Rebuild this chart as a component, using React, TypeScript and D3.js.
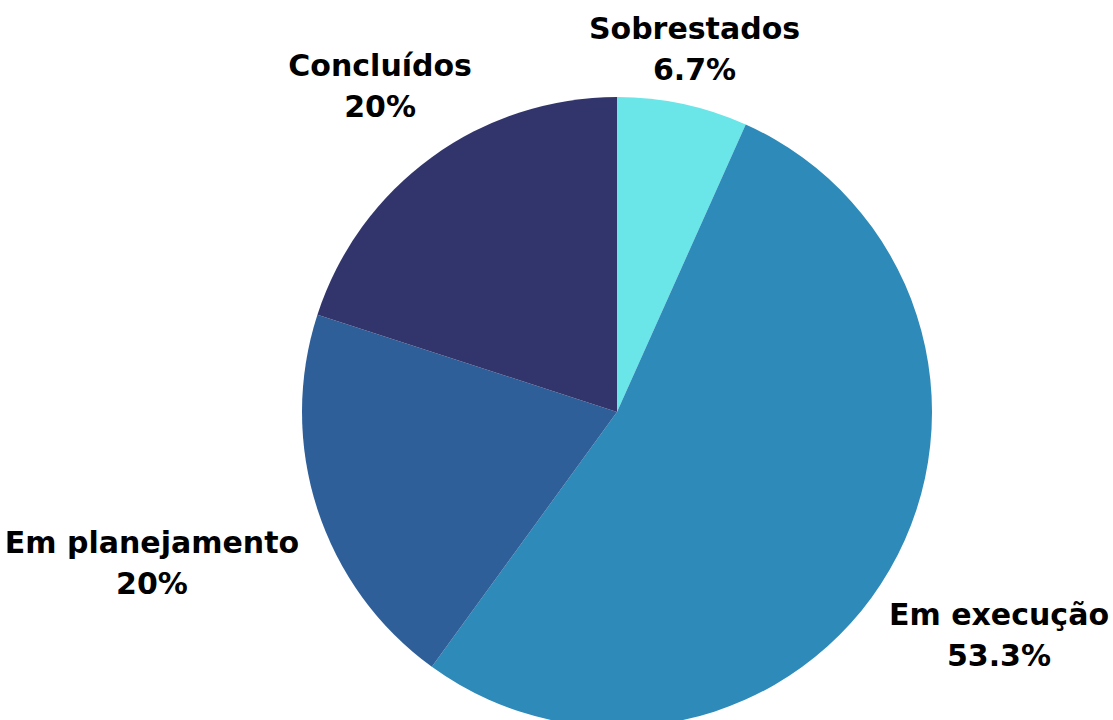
import React from "react";
import * as d3 from "d3";

const categories = ["Sobrestados", "Em execução", "Em planejamento", "Concluídos"];
const values = [6.7, 53.3, 20, 20];
const valueLabels = ["6.7%", "53.3%", "20%", "20%"];
const colors = ["#6AE5E8", "#2E8AB9", "#2E5F99", "#31356C"];

const W = 1113;
const H = 720;
const CX = 617;
const CY = 412;
const R = 315;
const FONT = "'DejaVu Sans', sans-serif";
const FS = 30;
const LINE = 41;
const LABEL_GAP = 34;

let ctx: CanvasRenderingContext2D | null = null;
function measure(s: string): number {
  if (!ctx) {
    const c = document.createElement("canvas");
    ctx = c.getContext("2d");
  }
  if (!ctx) return s.length * FS * 0.62;
  ctx.font = `bold ${FS}px 'DejaVu Sans'`;
  return ctx.measureText(s).width;
}

export default function App() {
  const pie = d3.pie<number>().sort(null).value((d) => d)(values);
  const arc = d3.arc<d3.PieArcDatum<number>>().innerRadius(0).outerRadius(R);

  return (
    <svg width={W} height={H} style={{ position: "absolute", left: 0, top: 0 }}>
      <g transform={`translate(${CX},${CY})`}>
        {pie.map((p, i) => (
          <path key={i} d={arc(p) || ""} fill={colors[i]} />
        ))}
        {pie.map((p, i) => {
          const mid = (p.startAngle + p.endAngle) / 2;
          const dx = Math.sin(mid);
          const dy = -Math.cos(mid);
          const w = Math.max(measure(categories[i]), measure(valueLabels[i]));
          const r = R + LABEL_GAP + (Math.abs(dx) * w) / 2;
          let px = r * dx;
          const py = r * dy;
          // keep labels inside the drawing area
          const minX = -CX + w / 2 + 4;
          const maxX = W - CX - w / 2 - 4;
          px = Math.max(minX, Math.min(maxX, px));
          return (
            <text
              key={i}
              x={px}
              y={py}
              textAnchor="middle"
              fontFamily={FONT}
              fontWeight="bold"
              fontSize={FS}
              fill="#000"
            >
              <tspan x={px} dy={-LINE / 2 + FS * 0.36}>{categories[i]}</tspan>
              <tspan x={px} dy={LINE}>{valueLabels[i]}</tspan>
            </text>
          );
        })}
      </g>
    </svg>
  );
}
